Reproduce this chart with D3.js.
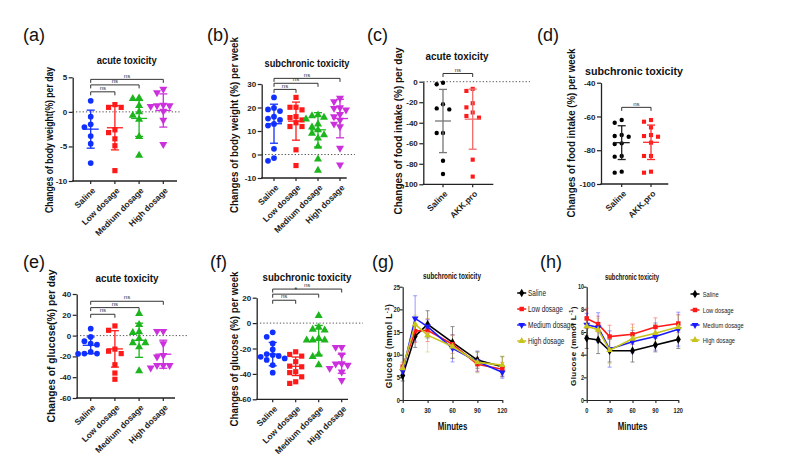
<!DOCTYPE html>
<html><head><meta charset="utf-8">
<script src="https://cdn.jsdelivr.net/npm/d3@7"></script>
<style>
html,body{margin:0;padding:0;background:#fff;}
svg{display:block;}
text{font-family:"Liberation Sans",Arial,sans-serif;}
</style></head>
<body>
<svg id="chart" width="800" height="456"></svg>
<script>
// ---------------- DATA ----------------
const cats4 = ["Saline", "Low dosage", "Medium dosage", "High dosage"];
const cats2 = ["Saline", "AKK.pro"];

// (a) acute toxicity, body weight change (%) per day
const aSaline = [1.6, -0.7, -1.8, -2.2, -3.5, -4.6, -7.4];
const aLow = [1.05, 0.65, 0.65, -2.6, -3.0, -3.9, -4.9, -8.5];
const aMedium = [2.0, 1.9, 0.9, 0.0, -0.5, -1.1, -3.6, -6.3];
const aHigh = [3.3, 2.8, 1.0, 0.9, 0.9, 0.8, 0.1, -1.2, -4.7];
const aMean = [-2.5, -2.3, -0.95, 0.2];
const aSD = [2.75, 3.2, 2.6, 2.4];
const aTicks = [-10, -5, 0, 5];
const aBrackets = [[0, 1, "ns", 2.9], [0, 2, "ns", 3.9], [0, 3, "ns", 4.7]];

// (b) subchronic toxicity, body weight change (%) per week
const bSaline = [24.3, 19.8, 19.2, 18.5, 16.1, 15.3, 14.7, 13.0, 12.3, 2.4, -1.5, -2.7];
const bLow = [24.3, 20.1, 20.1, 19.0, 16.1, 15.7, 14.7, 13.5, 11.9, 11.9, 2.0, -4.7];
const bMedium = [16.8, 16.4, 15.8, 15.0, 12.9, 11.6, 10.5, 9.0, 8.3, 6.9, 3.4, -2.0, -6.8];
const bHigh = [24.0, 22.5, 20.0, 19.7, 19.0, 17.1, 16.1, 14.7, 13.0, 11.9, 2.7, -4.4];
const bMean = [13.1, 14.2, 10.5, 15.3];
const bSD = [8.3, 8.1, 7.3, 8.2];
const bTicks = [-10, 0, 10, 20, 30];
const bBrackets = [[0, 1, "ns", 27.7], [0, 2, "ns", 30.3], [0, 3, "ns", 32.4]];

// (c) acute toxicity, food intake change (%) per day
const cSaline = [-1, -2.5, -22, -26, -27, -50, -50, -77, -90];
const cAKK = [-7, -9, -21, -25, -30, -33.4, -35, -76, -92.5];
const cMean = [-38.3, -36.5];
const cSD = [30.8, 29.3];
const cTicks = [-100, -80, -60, -40, -20, 0];
const cBrackets = [[0, 1, "ns", 8]];

// (d) subchronic toxicity, food intake change (%) per week
const dSaline = [-62.1, -63.7, -71.0, -71.6, -72.0, -75.9, -76.3, -83.4, -83.8, -92.7, -93.3];
const dAKK = [-62.1, -63.1, -66.5, -71.0, -71.6, -72.0, -75.5, -83.4, -83.4, -92.7, -93.3];
const dMean = [-75.5, -75.3];
const dSD = [10.0, 10.2];
const dTicks = [-100, -80, -60, -40];
const dBrackets = [[0, 1, "ns", -54.6]];

// (e) acute toxicity, glucose change (%) per day
const eSaline = [6.7, -1.3, -5.4, -7.7, -8.7, -15.7, -17.3, -17.3, -17.5];
const eLow = [9.3, 5.1, -13, -15, -17.3, -28, -36, -42];
const eMedium = [21, 10.6, 3.5, 2.9, -2.9, -7, -7, -11, -34];
const eHigh = [4.2, 4.2, -7.7, -19, -20.5, -28.5, -28.5, -28.5, -31];
const eMean = [-9.3, -12.8, -4.5, -17.9];
const eSD = [8, 17.5, 16.4, 13.5];
const eTicks = [-60, -40, -20, 0, 20, 40];
const eBrackets = [[0, 1, "ns", 20.5], [0, 2, "ns", 26.9], [0, 3, "ns", 33]];

// (f) subchronic toxicity, glucose change (%) per week
const fSaline = [-7.3, -10.8, -16, -20.7, -24.4, -25.2, -26, -26.5, -27.8, -29, -33, -39];
const fLow = [-22.6, -24.7, -26, -30.4, -33.9, -34.4, -38.3, -39, -42.3, -46.2, -47.5];
const fMedium = [5.8, -3.4, -5, -5.5, -12, -13.4, -13.4, -13.4, -24.7, -26.5, -33];
const fHigh = [-19, -19, -25, -31.8, -32, -33, -35.7, -38.3, -45];
const fMean = [-24.4, -34, -13.5, -32];
const fSD = [9.2, 7.3, 11.7, 7.5];
const fTicks = [-60, -40, -20, 0, 20];
const fBrackets = [[0, 1, "ns", 18], [0, 2, "*", 22.8], [0, 3, "ns", 26.8]];

// (g), (h) glucose tolerance curves
const minutes = [0, 15, 30, 60, 90, 120];
const minuteTicks = [0, 30, 60, 90, 120];
const lineSeries = ["Saline", "Low dosage", "Medium dosage", "High dosage"];
const gSaline = [5.4, 14.1, 16.7, 12.7, 8.8, 7.35];
const gLow = [7.35, 15.2, 15.4, 12.3, 7.9, 6.8];
const gMedium = [6.4, 18.0, 16.2, 11.4, 8.5, 6.1];
const gHigh = [7.0, 16.7, 14.3, 11.8, 8.3, 7.7];
const gSalineSD = [1.2, 2.5, 3.0, 3.5, 1.8, 2.2];
const gLowSD = [1.0, 2.5, 2.5, 2.0, 1.5, 1.5];
const gMediumSD = [1.0, 5.0, 1.5, 3.0, 2.3, 1.3];
const gHighSD = [1.0, 2.0, 3.7, 2.5, 2.3, 2.0];
const gTicks = [0, 5, 10, 15, 20, 25];

const hSaline = [5.45, 5.3, 4.35, 4.35, 4.85, 5.35];
const hLow = [7.2, 6.7, 5.6, 5.8, 6.45, 6.75];
const hMedium = [6.65, 6.4, 4.5, 5.15, 5.6, 6.25];
const hHigh = [6.5, 6.2, 4.4, 5.4, 5.9, 6.45];
const hSalineSD = [0.9, 1.2, 1.0, 1.0, 0.6, 0.8];
const hLowSD = [0.9, 0.7, 1.0, 0.9, 0.8, 0.8];
const hMediumSD = [1.0, 1.3, 1.6, 1.0, 1.2, 1.5];
const hHighSD = [0.8, 1.0, 1.2, 1.0, 0.8, 1.0];
const hTicks = [0, 2, 4, 6, 8, 10];

// ---------------- STYLE ----------------
const colors4 = ["#1030ff", "#ff1a1a", "#1db51d", "#cc30dd"];
const lineColors = ["#000000", "#ff1a1a", "#1a1aff", "#c8c41a"];
const svg = d3.select("#chart");

const symCircle = d3.symbol().type(d3.symbolCircle).size(26);
const symSquare = d3.symbol().type(d3.symbolSquare).size(27);
const symTri = d3.symbol().type(d3.symbolTriangle).size(28);

function swarm(vals, y, step, minD) {
  const order = vals.map((v, i) => i).sort((a, b) => vals[b] - vals[a]);
  const placed = [], off = new Array(vals.length).fill(0);
  for (const i of order) {
    const py = y(vals[i]);
    for (let k = 0; k < 30; k++) {
      const o = (k === 0 ? 0 : (k % 2 ? -1 : 1) * Math.ceil(k / 2)) * step;
      if (!placed.some(q => Math.abs(q.y - py) < minD && Math.abs(q.x - o) < minD)) {
        off[i] = o; placed.push({x: o, y: py}); break;
      }
    }
  }
  return off;
}

// condensed text: horizontal squeeze
function narrowText(parent, x, y, str, size, sx, anchor, bold) {
  return parent.append("text")
    .attr("transform", `translate(${x},${y}) scale(${sx},1)`)
    .attr("text-anchor", anchor || "start")
    .attr("font-size", size).attr("font-weight", bold ? "bold" : "normal")
    .attr("fill", "#222").text(str);
}

function panelText(p) {
  svg.append("text").attr("x", p.letterX).attr("y", p.letterY)
    .attr("font-size", 18).attr("fill", "#111").text(p.letter);
  svg.append("text").attr("x", p.titleX).attr("y", p.titleY)
    .attr("text-anchor", "middle").attr("font-weight", "bold")
    .attr("font-size", p.titleSize || 10).attr("fill", "#111")
    .attr("textLength", p.titleW).attr("lengthAdjust", "spacingAndGlyphs").text(p.title);
}

function drawDot(p) {
  panelText(p);
  const g = svg.append("g");
  const y = d3.scaleLinear().domain(p.domain).range([p.bottom, p.top]);
  const x = d3.scalePoint().domain(p.cats).range([p.x0, p.x1]);
  // y title
  svg.append("text").attr("transform", `translate(${p.yTitleX},${p.yTitleY}) rotate(-90)`)
    .attr("text-anchor", "middle").attr("font-weight", "bold").attr("font-size", 10.5)
    .attr("fill", "#111").attr("textLength", p.yTitleW).attr("lengthAdjust", "spacingAndGlyphs")
    .text(p.yTitle);
  // zero line
  if (p.zeroEnd) {
    g.append("line").attr("x1", p.axisX).attr("x2", p.zeroEnd)
      .attr("y1", y(0)).attr("y2", y(0))
      .attr("stroke", "#555").attr("stroke-width", 1).attr("stroke-dasharray", "1.3,2");
  }
  // y axis
  const ya = g.append("g").attr("transform", `translate(${p.axisX},0)`)
    .call(d3.axisLeft(y).tickValues(p.ticks).tickSize(4).tickSizeOuter(0).tickFormat(d => String(d)));
  ya.select(".domain").attr("stroke", "#222").attr("stroke-width", 1.3);
  ya.selectAll(".tick line").attr("stroke", "#222").attr("stroke-width", 1.2);
  ya.selectAll(".tick text").attr("font-size", 8).attr("font-weight", "bold")
    .attr("font-family", '"Liberation Sans",Arial,sans-serif').attr("fill", "#222").attr("x", -5.5);
  // x axis
  g.append("line").attr("x1", p.axisX - 0.6).attr("x2", p.xEnd)
    .attr("y1", p.bottom).attr("y2", p.bottom).attr("stroke", "#222").attr("stroke-width", 1.3);
  p.cats.forEach(c => {
    g.append("line").attr("x1", x(c)).attr("x2", x(c)).attr("y1", p.bottom).attr("y2", p.bottom + 3)
      .attr("stroke", "#222").attr("stroke-width", 1.2);
    g.append("text").attr("transform", `translate(${x(c) + 3},${p.bottom + 8}) rotate(-45)`)
      .attr("text-anchor", "end").attr("dy", "0.35em")
      .attr("font-size", 8.5).attr("font-weight", "bold").attr("fill", "#222").text(c);
  });
  // brackets
  p.brackets.forEach(([i, j, lab, v]) => {
    const yy = y(v), xa = x(p.cats[i]), xb = x(p.cats[j]);
    g.append("path").attr("d", `M${xa},${yy + 3.5}V${yy}H${xb}V${yy + 3.5}`)
      .attr("fill", "none").attr("stroke", "#333").attr("stroke-width", 1);
    g.append("text").attr("x", (xa + xb) / 2).attr("y", yy - 1.8).attr("text-anchor", "middle")
      .attr("font-size", lab === "*" ? 8 : 6).attr("fill", "#333").text(lab);
  });
  // points
  p.groups.forEach((vals, gi) => {
    const off = swarm(vals, y, p.step || 6.3, 5.5);
    const col = p.colors[gi];
    const sym = p.symbols[gi];
    vals.forEach((v, k) => {
      g.append("path").attr("d", sym.gen())
        .attr("transform", `translate(${x(p.cats[gi]) + off[k]},${y(v)})${sym.flip ? " rotate(180)" : ""}`)
        .attr("fill", col);
    });
  });
  // mean and SD
  p.cats.forEach((c, gi) => {
    const cx = x(c), m = p.mean[gi], s = p.sd[gi];
    const col = p.barColors[gi];
    const e = g.append("g").attr("stroke", col).attr("stroke-width", 1.3).attr("fill", "none");
    e.append("line").attr("x1", cx).attr("x2", cx).attr("y1", y(m - s)).attr("y2", y(m + s));
    e.append("line").attr("x1", cx - 8).attr("x2", cx + 8).attr("y1", y(m)).attr("y2", y(m));
    e.append("line").attr("x1", cx - 4).attr("x2", cx + 4).attr("y1", y(m + s)).attr("y2", y(m + s));
    e.append("line").attr("x1", cx - 4).attr("x2", cx + 4).attr("y1", y(m - s)).attr("y2", y(m - s));
  });
}

const S4 = [
  {gen: symCircle}, {gen: symSquare}, {gen: symTri}, {gen: symTri, flip: true}
];
const S2 = [{gen: d3.symbol().type(d3.symbolCircle).size(15)}, {gen: d3.symbol().type(d3.symbolSquare).size(17)}];

drawDot({letter: "(a)", letterX: 23, letterY: 41, title: "acute toxicity", titleX: 126.7, titleY: 63.5, titleW: 60,
  yTitle: "Changes of body weight(%) per day", yTitleX: 52.5, yTitleY: 140, yTitleW: 146,
  domain: [-10, 5], ticks: aTicks, axisX: 72.7, top: 77.3, bottom: 181, x0: 90.7, x1: 163.3, xEnd: 177, zeroEnd: 181,
  cats: cats4, groups: [aSaline, aLow, aMedium, aHigh], mean: aMean, sd: aSD, brackets: aBrackets,
  colors: colors4, barColors: colors4, symbols: S4});

drawDot({letter: "(b)", letterX: 207, letterY: 41, title: "subchronic toxicity", titleX: 307, titleY: 66.5, titleW: 85,
  yTitle: "Changes of body weight (%) per week", yTitleX: 237.5, yTitleY: 125, yTitleW: 176,
  domain: [-10, 30], ticks: bTicks, axisX: 261.7, top: 84, bottom: 178, x0: 274, x1: 340, xEnd: 346.7, zeroEnd: 355,
  cats: cats4, groups: [bSaline, bLow, bMedium, bHigh], mean: bMean, sd: bSD, brackets: bBrackets,
  colors: colors4, barColors: colors4, symbols: S4, step: 6});

drawDot({letter: "(c)", letterX: 367, letterY: 41, title: "acute toxicity", titleX: 457, titleY: 59.5, titleW: 63,
  yTitle: "Changes of food intake (%) per day", yTitleX: 401.5, yTitleY: 131, yTitleW: 167,
  domain: [-100, 0], ticks: cTicks, axisX: 423.3, top: 81.7, bottom: 184.3, x0: 443, x1: 472.7, xEnd: 493.3, zeroEnd: 530,
  cats: cats2, groups: [cSaline, cAKK], mean: cMean, sd: cSD, brackets: cBrackets,
  colors: ["#000", "#ff1a1a"], barColors: ["#777", "#f26a6a"], symbols: S2});

drawDot({letter: "(d)", letterX: 537, letterY: 41, title: "subchronic toxicity", titleX: 634, titleY: 74.5, titleW: 98,
  yTitle: "Changes of food intake (%) per week", yTitleX: 575.2, yTitleY: 133, yTitleW: 169,
  domain: [-100, -40], ticks: dTicks, axisX: 601, top: 82.7, bottom: 184, x0: 621.7, x1: 651, xEnd: 668.3, zeroEnd: null,
  cats: cats2, groups: [dSaline, dAKK], mean: dMean, sd: dSD, brackets: dBrackets,
  colors: ["#000", "#ff1a1a"], barColors: ["#222", "#ff2a2a"], symbols: S2, step: 7});

drawDot({letter: "(e)", letterX: 23, letterY: 268, title: "acute toxicity", titleX: 127, titleY: 281.5, titleW: 63,
  yTitle: "Changes of glucose(%) per day", yTitleX: 55.2, yTitleY: 346, yTitleW: 153,
  domain: [-60, 40], ticks: eTicks, axisX: 76.7, top: 294, bottom: 398, x0: 90.7, x1: 163.3, xEnd: 175, zeroEnd: 188,
  cats: cats4, groups: [eSaline, eLow, eMedium, eHigh], mean: eMean, sd: eSD, brackets: eBrackets,
  colors: colors4, barColors: colors4, symbols: S4});

drawDot({letter: "(f)", letterX: 210, letterY: 268, title: "subchronic toxicity", titleX: 307, titleY: 280.5, titleW: 89,
  yTitle: "Changes of glucose (%) per week", yTitleX: 237.8, yTitleY: 349, yTitleW: 155,
  domain: [-60, 20], ticks: fTicks, axisX: 256.7, top: 297.7, bottom: 399.3, x0: 272.7, x1: 341.7, xEnd: 348, zeroEnd: 363,
  cats: cats4, groups: [fSaline, fLow, fMedium, fHigh], mean: fMean, sd: fSD, brackets: fBrackets,
  colors: colors4, barColors: colors4, symbols: S4, step: 6});

// ---------- line panels ----------
const lineSyms = [
  {gen: d3.symbol().type(d3.symbolDiamond).size(22)},
  {gen: d3.symbol().type(d3.symbolSquare).size(20)},
  {gen: d3.symbol().type(d3.symbolTriangle).size(20), flip: true},
  {gen: d3.symbol().type(d3.symbolTriangle).size(20)}
];

function drawLine(p) {
  panelText(p);
  const g = svg.append("g");
  const x = d3.scaleLinear().domain([0, 120]).range([p.x0, p.x1]);
  const y = d3.scaleLinear().domain(p.domain).range([p.bottom, p.top]);
  // y title with superscript
  const yt = svg.append("text").attr("transform", `translate(${p.yTitleX},${p.yTitleY}) rotate(-90)`)
    .attr("text-anchor", "middle").attr("font-weight", "bold").attr("font-size", p.yTitleSize)
    .attr("fill", "#111").attr("letter-spacing", 0.4);
  yt.append("tspan").text("Glucose (mmol L");
  yt.append("tspan").attr("dy", -3).attr("font-size", p.yTitleSize * 0.7).text("-1");
  yt.append("tspan").attr("dy", 3).text(")");
  // axes
  const ya = g.append("g").attr("transform", `translate(${p.x0},0)`)
    .call(d3.axisLeft(y).tickValues(p.ticks).tickSize(3).tickSizeOuter(0).tickFormat(() => ""));
  const xa = g.append("g").attr("transform", `translate(0,${p.bottom})`)
    .call(d3.axisBottom(x).tickValues(minuteTicks).tickSize(3).tickSizeOuter(0).tickFormat(() => ""));
  [ya, xa].forEach(a => {
    a.select(".domain").attr("stroke", "#222").attr("stroke-width", 1.2);
    a.selectAll(".tick line").attr("stroke", "#222").attr("stroke-width", 1.1);
  });
  p.ticks.forEach(t => {
    narrowText(g, p.x0 - 2.8, y(t), String(t), p.tickSize, 0.72, "end", true).attr("dy", "0.35em");
  });
  minuteTicks.forEach(t => {
    narrowText(g, x(t), p.bottom + 13, String(t), p.tickSize, 0.75, "middle", true);
  });
  narrowText(svg, (p.x0 + p.x1) / 2, p.bottom + 30, "Minutes", 10.5, 0.75, "middle", true).attr("fill", "#111");
  // series
  p.series.forEach((vals, si) => {
    const col = lineColors[si];
    const eb = g.append("g").attr("stroke", col).attr("stroke-width", 0.8).attr("opacity", 0.55);
    vals.forEach((v, k) => {
      const cx = x(minutes[k]), s = p.sds[si][k];
      eb.append("line").attr("x1", cx).attr("x2", cx).attr("y1", y(v - s)).attr("y2", y(v + s));
      eb.append("line").attr("x1", cx - 2).attr("x2", cx + 2).attr("y1", y(v - s)).attr("y2", y(v - s));
      eb.append("line").attr("x1", cx - 2).attr("x2", cx + 2).attr("y1", y(v + s)).attr("y2", y(v + s));
    });
  });
  p.series.forEach((vals, si) => {
    const col = lineColors[si];
    g.append("path").datum(vals)
      .attr("d", d3.line().x((d, k) => x(minutes[k])).y(d => y(d)))
      .attr("fill", "none").attr("stroke", col).attr("stroke-width", 1.6);
    vals.forEach((v, k) => {
      g.append("path").attr("d", lineSyms[si].gen())
        .attr("transform", `translate(${x(minutes[k])},${y(v)})${lineSyms[si].flip ? " rotate(180)" : ""}`)
        .attr("fill", col);
    });
  });
  // legend
  lineSeries.forEach((name, si) => {
    const ly = p.legY[si], col = lineColors[si];
    g.append("line").attr("x1", p.legX - 4.5).attr("x2", p.legX + 4.5).attr("y1", ly).attr("y2", ly)
      .attr("stroke", col).attr("stroke-width", 1.5);
    g.append("path").attr("d", lineSyms[si].gen())
      .attr("transform", `translate(${p.legX},${ly})${lineSyms[si].flip ? " rotate(180)" : ""}`).attr("fill", col);
    narrowText(g, p.legTextX, ly, name, p.legSize, p.legScale, "start", false).attr("dy", "0.35em");
  });
}

drawLine({letter: "(g)", letterX: 372, letterY: 268, title: "subchronic toxicity", titleX: 452, titleY: 278.5, titleW: 58,
  titleSize: 9.5, yTitleX: 391.5, yTitleY: 346, yTitleSize: 8.5,
  domain: [0, 25], ticks: gTicks, x0: 402.7, x1: 502.3, top: 286.7, bottom: 400, tickSize: 8,
  series: [gSaline, gLow, gMedium, gHigh], sds: [gSalineSD, gLowSD, gMediumSD, gHighSD],
  legX: 521.7, legTextX: 528, legY: [293, 309, 325, 341], legSize: 9, legScale: 0.72});

drawLine({letter: "(h)", letterX: 540, letterY: 268, title: "subchronic toxicity", titleX: 632, titleY: 280, titleW: 54,
  titleSize: 9, yTitleX: 576, yTitleY: 346, yTitleSize: 8,
  domain: [0, 10], ticks: hTicks, x0: 586.7, x1: 678.3, top: 286.7, bottom: 400, tickSize: 7.5,
  series: [hSaline, hLow, hMedium, hHigh], sds: [hSalineSD, hLowSD, hMediumSD, hHighSD],
  legX: 695, legTextX: 702.7, legY: [294, 310, 325, 340], legSize: 8, legScale: 0.72});
</script>
</body></html>
